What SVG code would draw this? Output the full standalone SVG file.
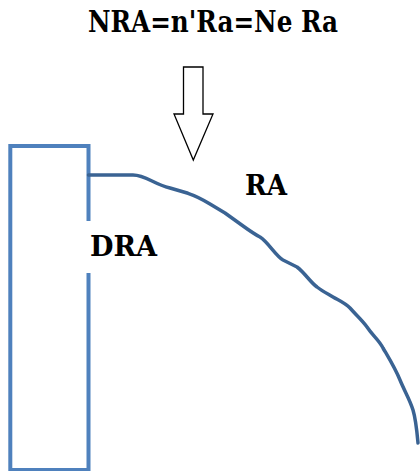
<svg xmlns="http://www.w3.org/2000/svg" width="420" height="471" viewBox="0 0 420 471">
<style>
.t{font-family:'DejaVu Serif','Liberation Serif',serif;font-weight:bold;fill:#000}
.box{fill:none;stroke:#4F81BD;stroke-width:4}
.curve{fill:none;stroke:#3A6393;stroke-width:3.5;stroke-linejoin:round;stroke-linecap:round}
.arrow{fill:#fff;stroke:#000;stroke-width:1.3}
</style>
<rect width="420" height="471" fill="#fff"/>
<g id="title"><text class="t" x="88" y="32" font-size="30" textLength="250" lengthAdjust="spacingAndGlyphs">NRA=n'Ra=Ne Ra</text></g>
<g id="arrow"><path class="arrow" d="M183.5,67 H203 V114 H213 L193.3,160 L174,114 H183.5 Z"/></g>
<g id="dra">
<path class="box" d="M88.5,221 V146 H10.3 V470 H88.5 V273"/>
<text class="t" x="90" y="256" font-size="28" textLength="67" lengthAdjust="spacingAndGlyphs">DRA</text>
</g>
<g id="ra">
<path class="curve" d="M88.5,175 L133,175 C140,175 146,178 152,181 C158,184 162,186 170,188 L188,193.3 C196,196 202,199 210,204 L225,213 L241.7,225 C250,231 254,234 260,237 C268,242 276,256 283,260 L297,267 C305,273 310,282 317,287 C322,291 328,294 333,297 C340,301 345,303 350,308 C357,316 362,320 367,327 C373,336 379,340 383,348 C390,360 395,368 400,380 C405,392 410,400 413,410 C416,420 417,432 418,443"/>
<text class="t" x="245" y="195" font-size="27" textLength="42" lengthAdjust="spacingAndGlyphs">RA</text>
</g>
</svg>
